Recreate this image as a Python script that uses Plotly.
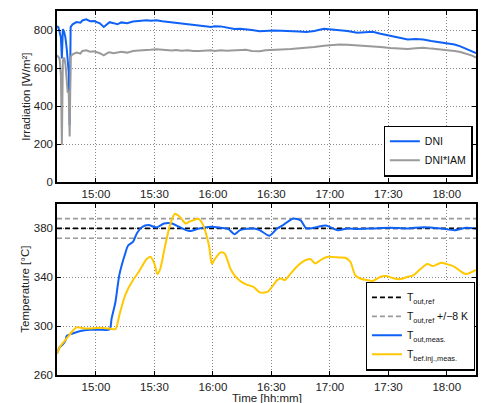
import plotly.graph_objects as go

DAY = "2013-06-01 "

# --- Irradiation (top) ---
irr_time = ["14:40:00","14:40:40","14:41:20","14:42:00","14:42:30","14:43:00","14:43:40","14:44:20",
            "14:45:00","14:45:30","14:46:00","14:46:30","14:47:00","14:48:00","14:50:00","14:52:00",
            "14:53:00","14:55:00","14:57:00","14:59:00","15:02:00","15:04:00","15:06:00","15:07:00",
            "15:09:00","15:11:00","15:13:00","15:16:00","15:19:00","15:22:00","15:26:00","15:28:00",
            "15:31:00","15:34:00","15:36:00","15:39:00","15:41:00","15:44:00","15:47:00","15:50:00",
            "15:53:00","15:56:00","15:59:00","16:01:00","16:04:00","16:07:00","16:11:00","16:14:00",
            "16:17:00","16:20:00","16:24:00","16:27:00","16:31:00","16:35:00","16:40:00","16:44:00",
            "16:48:00","16:52:00","16:57:00","17:01:00","17:05:00","17:09:00","17:14:00","17:18:00",
            "17:22:00","17:26:00","17:31:00","17:35:00","17:40:00","17:44:00","17:48:00","17:52:00",
            "17:57:00","18:01:00","18:04:00","18:07:00","18:10:00","18:13:00","18:15:00"]
dni = [820,815,790,760,650,805,790,760,700,640,580,300,815,830,842,838,
       850,856,846,847,835,816,835,841,836,830,840,836,845,848,851,849,
       851,846,844,840,836,833,830,827,823,820,816,820,819,812,805,807,
       805,800,793,796,798,796,795,792,789,795,807,803,802,795,786,790,
       791,780,770,760,750,752,750,742,735,730,724,714,700,688,678]
dni_iam = [667,660,650,560,195,640,655,620,540,470,480,240,660,672,681,676,
           690,693,686,688,678,667,680,683,678,682,686,681,689,692,693,696,
           699,695,696,692,695,691,693,689,690,692,693,690,693,691,693,693,
           696,690,688,693,697,698,700,703,707,710,717,720,724,722,719,716,
           715,710,705,702,700,704,707,702,697,694,690,684,676,665,655]

# --- Temperature (bottom) ---
tout_time = ["14:40:00","14:41:30","14:43:00","14:44:30","14:45:00","14:48:00","14:52:00","14:57:00",
             "15:02:00","15:07:00","15:08:00","15:10:00","15:12:00","15:15:00","15:16:30","15:19:00",
             "15:21:00","15:23:30","15:27:00","15:31:00","15:35:00","15:39:00","15:43:00","15:48:00",
             "15:53:00","15:59:00","16:04:00","16:08:00","16:11:00","16:14:00","16:21:00","16:24:00",
             "16:29:00","16:33:00","16:36:00","16:41:00","16:45:00","16:48:00","16:53:00","16:58:00",
             "17:04:00","17:09:00","17:14:00","17:22:00","17:31:00","17:40:00","17:48:00","17:57:00",
             "18:04:00","18:10:00","18:15:00"]
tout_meas = [277.7,283,285,289,292,294,296,297,
             297,297.5,306,320,342,359.5,366,369,
             376,381,382.7,380.8,384,384,381,377.8,
             380,381.4,380.5,379.5,375.3,378.6,380,378.6,
             374,380,382.7,388,386.6,380,381,382.4,
             378.6,380,379.6,380,380.5,380,381,380,
             378.6,380.5,379.7]

tbef_time = ["14:40:00","14:41:30","14:45:00","14:48:00","14:50:00","14:55:00","15:02:00","15:07:00",
             "15:10:00","15:12:00","15:15:00","15:19:00","15:22:00","15:26:00","15:28:00","15:30:00",
             "15:31:30","15:33:00","15:35:30","15:38:00","15:40:30","15:43:00","15:46:00","15:48:00",
             "15:52:00","15:53:00","15:55:00","15:58:00","15:59:30","16:01:00","16:04:00","16:06:00",
             "16:09:00","16:11:00","16:14:00","16:17:00","16:21:00","16:24:00","16:28:00","16:30:00",
             "16:33:00","16:35:00","16:37:00","16:40:00","16:43:00","16:46:00","16:50:00","16:52:30",
             "16:56:00","16:59:00","17:04:00","17:08:00","17:10:30","17:13:00","17:15:30","17:19:00",
             "17:22:00","17:26:00","17:29:00","17:33:00","17:36:00","17:40:00","17:43:00","17:46:30",
             "17:50:00","17:53:00","17:57:00","18:00:00","18:04:00","18:07:00","18:10:00","18:15:00"]
tbef_meas = [277.7,283,290,296,299,298,298.6,298,
             297.6,309,325.4,337.7,344.5,354.9,356.8,351,
             342.6,347,366,382.7,392,389.5,384,385.5,
             388,387.5,382.7,366,351,355,360.4,359.5,
             347,341.8,336.9,334.2,332,327.6,328,331.4,
             337.7,339,337.7,343.2,348.6,352.7,354.9,351.3,
             354.9,356.8,356.3,356,352.7,341.8,339,337.7,
             337,340.4,341,339,338.5,340.4,341.8,346.7,
             350.8,349.2,351.9,350.8,348.6,345,342.6,346]

ref_span = ["14:40:00", "18:15:00"]
t_out_ref = 380
t_tol = 8

x_ticks = ["15:00", "15:30", "16:00", "16:30", "17:00", "17:30", "18:00"]

BLUE = "#0f62f5"
GRAY = "#9a9a9a"
YELLOW = "#ffc800"

def ts(lst):
    return [DAY + t for t in lst]

fig = go.Figure()
fig.add_trace(go.Scatter(x=ts(irr_time), y=dni, mode="lines", name="DNI",
                         line=dict(color=BLUE, width=2), xaxis="x", yaxis="y", legend="legend"))
fig.add_trace(go.Scatter(x=ts(irr_time), y=dni_iam, mode="lines", name="DNI*IAM",
                         line=dict(color=GRAY, width=2), xaxis="x", yaxis="y", legend="legend"))

fig.add_trace(go.Scatter(x=ts(ref_span), y=[t_out_ref]*2, mode="lines",
                         name="T<sub>out,ref</sub>",
                         line=dict(color="black", width=1.6, dash="5px,3px"),
                         xaxis="x2", yaxis="y2", legend="legend2"))
fig.add_trace(go.Scatter(x=ts(ref_span), y=[t_out_ref + t_tol]*2, mode="lines",
                         name="T<sub>out,ref</sub> +/−8 K",
                         line=dict(color=GRAY, width=1.6, dash="5px,3px"),
                         xaxis="x2", yaxis="y2", legend="legend2"))
fig.add_trace(go.Scatter(x=ts(ref_span), y=[t_out_ref - t_tol]*2, mode="lines",
                         showlegend=False,
                         line=dict(color=GRAY, width=1.6, dash="5px,3px"),
                         xaxis="x2", yaxis="y2"))
fig.add_trace(go.Scatter(x=ts(tout_time), y=tout_meas, mode="lines",
                         name="T<sub>out,meas.</sub>",
                         line=dict(color=BLUE, width=2, shape="spline", smoothing=0.7),
                         xaxis="x2", yaxis="y2", legend="legend2"))
fig.add_trace(go.Scatter(x=ts(tbef_time), y=tbef_meas, mode="lines",
                         name="T<sub>bef.inj.,meas.</sub>",
                         line=dict(color=YELLOW, width=2, shape="spline", smoothing=0.7),
                         xaxis="x2", yaxis="y2", legend="legend2"))

FONT = "Liberation Sans, Arial, sans-serif"
TICKF = dict(size=11.5, color="#222", family=FONT)
xr = [DAY + "14:40:00", DAY + "18:15:00"]
common_x = dict(range=xr, type="date", tickmode="array",
                tickvals=ts([t + ":00" for t in x_ticks]), ticktext=x_ticks,
                showgrid=True, gridcolor="#888", griddash="1px,2px", gridwidth=1,
                showline=True, linecolor="black", linewidth=1.5, mirror="ticks",
                ticks="inside", ticklen=4, tickcolor="black",
                tickfont=TICKF, zeroline=False, automargin=False)
common_y = dict(showgrid=True, gridcolor="#888", griddash="1px,2px", gridwidth=1,
                showline=True, linecolor="black", linewidth=1.5, mirror="ticks",
                ticks="inside", ticklen=4, tickcolor="black",
                tickfont=TICKF, zeroline=False, automargin=False)

TOP_DOM = [0.5302, 1]
BOT_DOM = [0, 0.4698]

fig.update_layout(
    width=483, height=403,
    margin=dict(l=57, r=7, t=11, b=28, autoexpand=False),
    paper_bgcolor="white", plot_bgcolor="white",
    font=dict(family=FONT, size=11, color="#222"),
    xaxis=dict(domain=[0, 1], anchor="y", **common_x),
    yaxis=dict(domain=TOP_DOM, anchor="x", range=[0, 900],
               tickvals=[0, 200, 400, 600, 800], **common_y),
    xaxis2=dict(domain=[0, 1], anchor="y2", **common_x),
    yaxis2=dict(domain=BOT_DOM, anchor="x2", range=[260, 400],
                tickvals=[260, 300, 340, 380], **common_y),
    legend=dict(x=0.992, y=0.545, xanchor="right", yanchor="bottom",
                bordercolor="black", borderwidth=1.2, bgcolor="white",
                font=dict(size=10.5, color="#111"), itemwidth=30),
    legend2=dict(x=0.997, y=0.012, xanchor="right", yanchor="bottom",
                 bordercolor="black", borderwidth=1.2, bgcolor="white",
                 font=dict(size=10.5, color="#111"), itemwidth=30),
    annotations=[
        dict(text="Irradiation [W/m²]", xref="paper", yref="paper",
             x=-0.076, y=sum(TOP_DOM) / 2, textangle=-90, showarrow=False,
             xanchor="center", yanchor="middle", font=dict(size=11.5, color="#222")),
        dict(text="Temperature [°C]", xref="paper", yref="paper",
             x=-0.076, y=sum(BOT_DOM) / 2, textangle=-90, showarrow=False,
             xanchor="center", yanchor="middle", font=dict(size=11.5, color="#222")),
        dict(text="Time [hh:mm]", xref="paper", yref="paper",
             x=0.5, y=0, yshift=-15, showarrow=False,
             xanchor="center", yanchor="top", font=dict(size=11.5, color="#222")),
    ],
)

fig.write_html("out.html", config={"displayModeBar": False},
               post_script="document.body.style.margin='0px';document.body.style.padding='0px';")
